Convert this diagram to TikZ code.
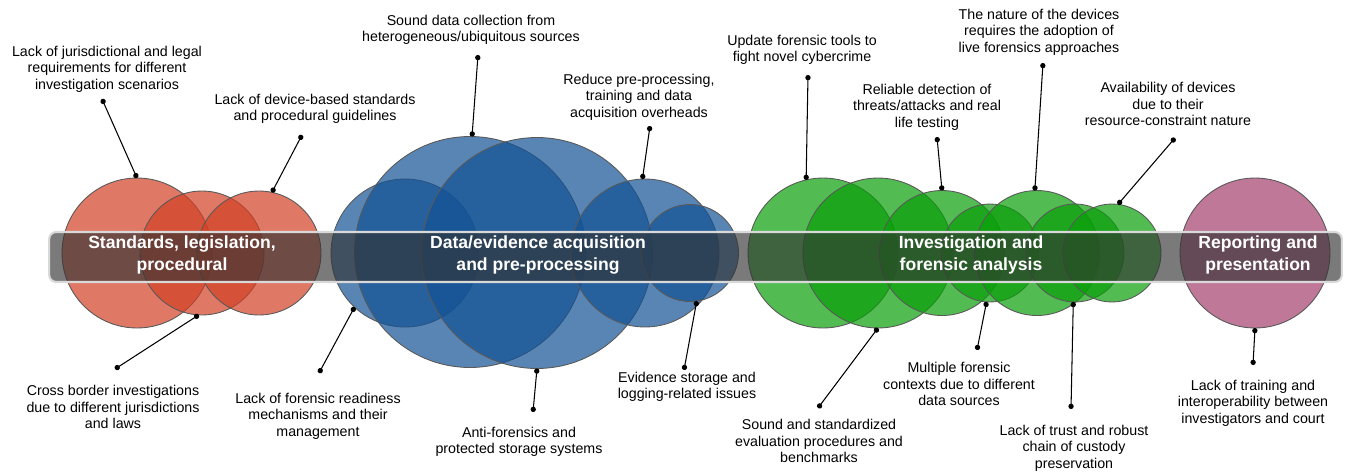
\documentclass[tikz,border=0pt]{standalone}
\usepackage{fontspec}
\setmainfont{Liberation Sans}
\usepackage{tikz}
\usetikzlibrary{arrows.meta}

\definecolor{legalred}{RGB}{209,64,36}
\definecolor{acqblue}{RGB}{17,81,148}
\definecolor{invgreen}{RGB}{8,158,8}
\definecolor{reppink}{RGB}{164,62,108}
\definecolor{bandgray}{RGB}{51,51,51}
\definecolor{bandedge}{RGB}{217,217,217}

\begin{document}
\begin{tikzpicture}[x=0.02cm, y=-0.02cm,
	blob/.style={circle, draw=black!65, line width=0.5pt, fill opacity=0.7, inner sep=0pt, outer sep=0pt},
	legal/.style={blob, fill=legalred},
	acq/.style={blob, fill=acqblue},
	inv/.style={blob, fill=invgreen},
	rep/.style={blob, fill=reppink},
	band/.style={rectangle, rounded corners=4pt, fill=bandgray, fill opacity=0.65, draw=bandedge, line width=1.2pt, minimum width=25.86cm, minimum height=1cm},
	stage/.style={font=\fontsize{10}{12.5}\selectfont\bfseries, text=white, align=center},
	issue/.style={font=\fontsize{8.1}{9.4}\selectfont, align=center, inner sep=0pt},
	lead/.style={{Circle[length=3pt]}-{Circle[length=3pt]}, line width=0.6pt}]
	\useasboundingbox (0,0) rectangle (1346,471);

	% circles
	\node[legal, minimum size=3cm] (r1) at (137,253) {};
	\node[legal, minimum size=2.48cm] (r2) at (202,253) {};
	\node[legal, minimum size=2.48cm] (r3) at (259,253) {};

	\node[acq, minimum size=2.96cm] (b1) at (405,253) {};
	\node[acq, minimum size=4.62cm] (b2) at (470,252) {};
	\node[acq, minimum size=4.62cm] (b3) at (537,253) {};
	\node[acq, minimum size=2.96cm] (b4) at (645,253) {};
	\node[acq, minimum size=1.94cm] (b5) at (690,253) {};

	\node[inv, minimum size=3cm] (g1) at (823,253) {};
	\node[inv, minimum size=3cm] (g2) at (878,253) {};
	\node[inv, minimum size=2.5cm] (g3) at (942,253) {};
	\node[inv, minimum size=1.96cm] (g4) at (990,253) {};
	\node[inv, minimum size=2.5cm] (g5) at (1037,253) {};
	\node[inv, minimum size=1.96cm] (g6) at (1075,253) {};
	\node[inv, minimum size=1.96cm] (g7) at (1112,253) {};

	\node[rep, minimum size=3cm] (p1) at (1255,253) {};

	% band and stage titles
	\node[band] (band) at (695.5,257) {};
	\node[stage] (tstd) at (182,255) {Standards, legislation,\\procedural};
	\node[stage] (tacq) at (538,255) {Data/evidence acquisition\\and pre-processing};
	\node[stage] (tinv) at (971,255) {Investigation and\\forensic analysis};
	\node[stage] (trep) at (1258,255) {Reporting and\\presentation};

	% issues
	\node[issue] (iss1) at (107,69) {Lack of jurisdictional and legal\\requirements for different\\investigation scenarios};
	\node[issue] (iss2) at (315,109) {Lack of device-based standards\\and procedural guidelines};
	\node[issue] (iss3) at (113,407) {Cross border investigations\\due to different jurisdictions\\and laws};
	\node[issue] (iss4) at (318,416) {Lack of forensic readiness\\mechanisms and their\\management};
	\node[issue] (iss5) at (471,30) {Sound data collection from\\heterogeneous/ubiquitous sources};
	\node[issue] (iss6) at (639,97) {Reduce pre-processing,\\training and data\\acquisition overheads};
	\node[issue] (iss7) at (802,50) {Update forensic tools to\\fight novel cybercrime};
	\node[issue] (iss8) at (927,107) {Reliable detection of\\threats/attacks and real\\life testing};
	\node[issue] (iss9) at (1039,32) {The nature of the devices\\requires the adoption of\\live forensics approaches};
	\node[issue] (iss10) at (1168,104) {Availability of devices\\due to their\\resource-constraint nature};
	\node[issue] (iss11) at (519,442) {Anti-forensics and\\protected storage systems};
	\node[issue] (iss12) at (687,387) {Evidence storage and\\logging-related issues};
	\node[issue] (iss13) at (819,441) {Sound and standardized\\evaluation procedures and\\benchmarks};
	\node[issue] (iss14) at (959,384) {Multiple forensic\\contexts due to different\\data sources};
	\node[issue] (iss15) at (1074,448) {Lack of trust and robust\\chain of custody\\preservation};
	\node[issue] (iss16) at (1253,403) {Lack of training and\\interoperability between\\investigators and court};

	% leader ends
	\coordinate (d1) at (102,99);
	\coordinate (d2) at (302,135);
	\coordinate (d3) at (115,369);
	\coordinate (d4) at (319,373);
	\coordinate (d5) at (478,55);
	\coordinate (d6) at (650,126);
	\coordinate (d7) at (808,75);
	\coordinate (d8) at (937,137);
	\coordinate (d9) at (1043,63);
	\coordinate (d10) at (1175,138);
	\coordinate (d11) at (533,412);
	\coordinate (d12) at (684,370);
	\coordinate (d13) at (818,408);
	\coordinate (d14) at (977,350);
	\coordinate (d15) at (1071,409);
	\coordinate (d16) at (1253,365);

	\draw[lead] (d1) -- (r1.90);
	\draw[lead] (d2) -- (r3.78);
	\draw[lead] (d3) -- (r2.267);
	\draw[lead] (d4) -- (b1.227);
	\draw[lead] (d5) -- (b2.89);
	\draw[lead] (d6) -- (b4.92);
	\draw[lead] (d7) -- (g1.103);
	\draw[lead] (d8) -- (g3.90);
	\draw[lead] (d9) -- (g5.92);
	\draw[lead] (d10) -- (g7.83);
	\draw[lead] (d11) -- (b3.270);
	\draw[lead] (d12) -- (b5.278);
	\draw[lead] (d13) -- (g2.270);
	\draw[lead] (d14) -- (g4.266);
	\draw[lead] (d15) -- (g6.268);
	\draw[lead] (d16) -- (p1.270);
\end{tikzpicture}
\end{document}
